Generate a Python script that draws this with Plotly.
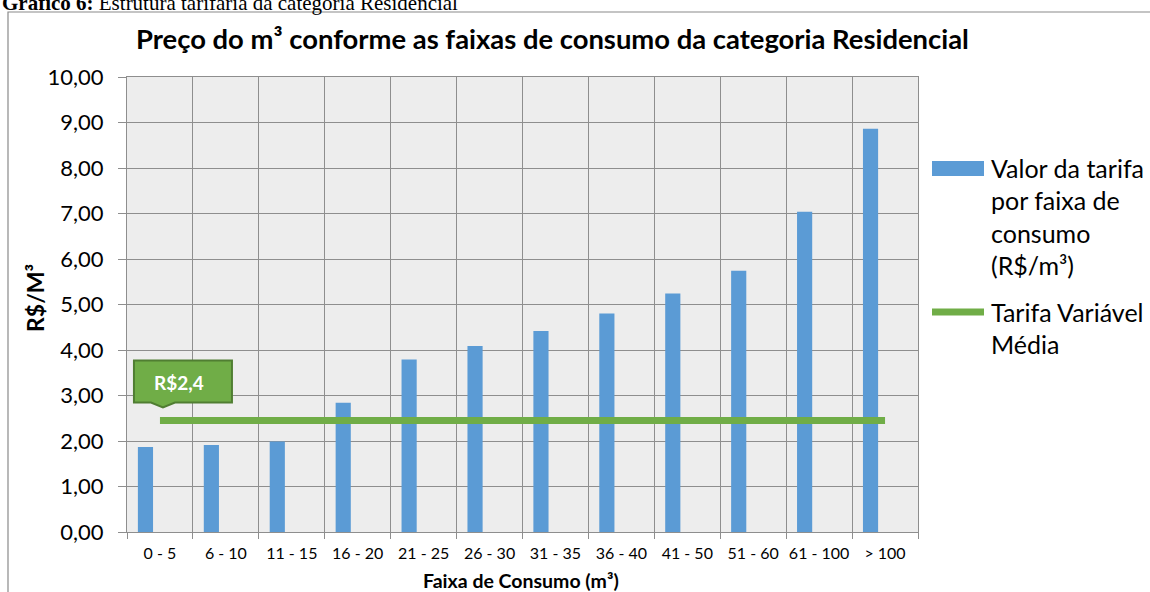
import plotly.graph_objects as go

categories = ["0 - 5", "6 - 10", "11 - 15", "16 - 20", "21 - 25", "26 - 30",
              "31 - 35", "36 - 40", "41 - 50", "51 - 60", "61 - 100", "> 100"]
tarifa = [1.87, 1.91, 1.99, 2.84, 3.79, 4.09, 4.42, 4.80, 5.24, 5.74, 7.04, 8.86]
tarifa_media = [2.45] * len(categories)
media_label = "R$2,4"
y_ticks = [0, 1, 2, 3, 4, 5, 6, 7, 8, 9, 10]

BLUE = "#5B9BD5"
GREEN = "#70AD47"
GREEN_DARK = "#507E32"
GRID = "#8E8E8E"
FONT = "Lato"

W, H = 1150, 592
L, R, T, B = 127, 232, 77, 60
PW, PH = W - L - R, H - T - B


def px(x):
    return (x - L) / PW


def py(y):
    return (H - B - y) / PH


fig = go.Figure()
fig.add_trace(go.Bar(x=categories, y=tarifa, marker_color=BLUE,
                     marker_line_width=0, width=0.23, offset=-0.335,
                     name="Valor da tarifa por faixa de consumo (R$/m³)"))
fig.add_trace(go.Scatter(x=categories, y=tarifa_media, mode="lines",
                         line=dict(color=GREEN, width=7),
                         name="Tarifa Variável Média"))

shapes = []
# outer chart frame
shapes.append(dict(type="rect", xref="paper", yref="paper",
                   x0=px(8), x1=px(1170), y0=py(610), y1=py(12),
                   line=dict(color="#8A8A8A", width=1.2), fillcolor="rgba(0,0,0,0)",
                   layer="below"))
# callout box anchored to first category / mean line
shapes.append(dict(type="path", xref="x", yref="y", xsizemode="pixel", ysizemode="pixel",
                   xanchor=0, yanchor=tarifa_media[0],
                   path="M -26 18 L -9 18 L 3 13 L 15 18 L 72 18 L 72 60 L -26 60 Z",
                   fillcolor=GREEN, line=dict(color=GREEN_DARK, width=2), layer="above"))
# custom legend markers
shapes.append(dict(type="rect", xref="paper", yref="paper",
                   x0=px(932), x1=px(984), y0=py(176), y1=py(161),
                   fillcolor=BLUE, line=dict(width=0)))
shapes.append(dict(type="line", xref="paper", yref="paper",
                   x0=px(932), x1=px(984), y0=py(312), y1=py(312),
                   line=dict(color=GREEN, width=7)))

annotations = []
annotations.append(dict(text="<b>Gráfico 6:</b> Estrutura tarifária da categoria Residencial",
                        xref="paper", yref="paper", x=px(0), y=py(17),
                        xanchor="left", yanchor="bottom", showarrow=False,
                        font=dict(family="Liberation Serif", size=21, color="black")))
annotations.append(dict(text="<b>Preço do m³ conforme as faixas de consumo da categoria Residencial</b>",
                        xref="paper", yref="paper", x=px(552), y=py(38),
                        xanchor="center", yanchor="middle", showarrow=False,
                        font=dict(family=FONT, size=27.4, color="black")))
annotations.append(dict(text="<b>R$/M³</b>", textangle=-90,
                        xref="paper", yref="paper", x=px(35), y=py(298),
                        xanchor="center", yanchor="middle", showarrow=False,
                        font=dict(family=FONT, size=23, color="black")))
annotations.append(dict(text="<b>Faixa de Consumo (m³)</b>",
                        xref="paper", yref="paper", x=px(521), y=py(580),
                        xanchor="center", yanchor="middle", showarrow=False,
                        font=dict(family=FONT, size=19.5, color="black")))
annotations.append(dict(text="<b>" + media_label + "</b>", xref="x", yref="y",
                        x=0, y=tarifa_media[0], xshift=19, yshift=38,
                        showarrow=False, xanchor="center", yanchor="middle",
                        font=dict(family=FONT, size=19, color="white")))

legend_lines = [("Valor da tarifa", 168), ("por faixa de", 200), ("consumo", 233),
                ("(R$/m³)", 265), ("Tarifa Variável", 312), ("Média", 344)]
for txt, yy in legend_lines:
    annotations.append(dict(text=txt, xref="paper", yref="paper", x=px(989), y=py(yy),
                            xanchor="left", yanchor="middle", showarrow=False,
                            font=dict(family=FONT, size=25, color="black")))

fig.update_layout(
    width=W, height=H,
    margin=dict(l=L, r=R, t=T, b=B, pad=0),
    paper_bgcolor="white", plot_bgcolor="#EDEDED",
    showlegend=False, separators=",.",
    font=dict(family=FONT, color="black"),
    shapes=shapes, annotations=annotations,
    xaxis=dict(type="category", tickson="boundaries", range=[-0.5, 11.5],
               automargin=False, tickangle=0, ticklabelstandoff=7,
               showgrid=True, gridcolor=GRID, gridwidth=1,
               ticks="outside", ticklen=6, tickcolor=GRID,
               showline=True, linecolor=GRID, linewidth=1, mirror=True,
               tickfont=dict(family=FONT, size=16, color="black")),
    yaxis=dict(range=[0, 10], tickvals=y_ticks, tickformat=".2f",
               automargin=False,
               showgrid=True, gridcolor=GRID, gridwidth=1, zeroline=False,
               ticks="outside", ticklen=8, tickcolor=GRID,
               showline=True, linecolor=GRID, linewidth=1, mirror=True,
               ticklabelstandoff=10,
               tickfont=dict(family=FONT, size=22, color="black")),
)

fig.write_html("out.html", config={"displayModeBar": False},
               post_script="document.body.style.margin='0px';")
